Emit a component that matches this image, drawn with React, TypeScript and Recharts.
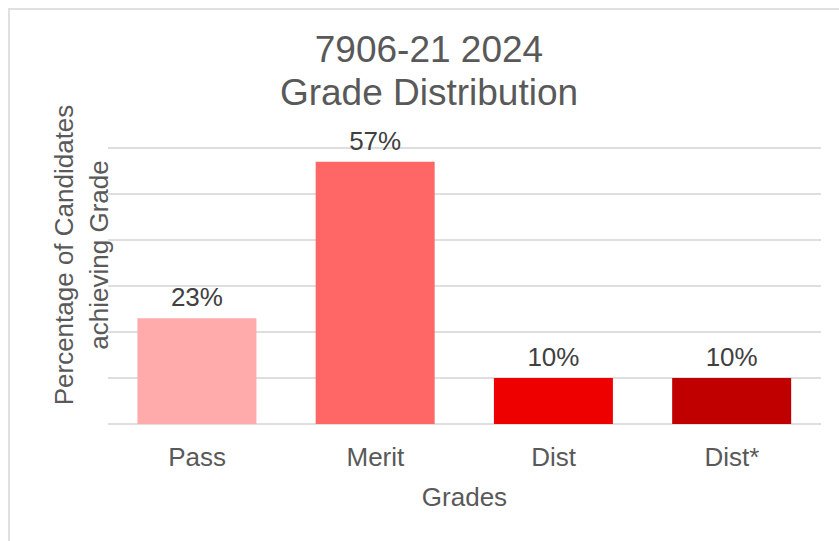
import { BarChart, Bar, XAxis, YAxis, CartesianGrid, LabelList, Cell } from 'recharts'

const grades = ['Pass', 'Merit', 'Dist', 'Dist*']
const percentages = [23, 57, 10, 10]
const barColors = ['#FFABAB', '#FF6666', '#EE0000', '#C00000']
const yTicks = [0, 10, 20, 30, 40, 50, 60]

const data = grades.map((grade, i) => ({ grade, value: percentages[i] }))

const FONT = '"Liberation Sans", Arial, sans-serif'

function YLabel({ viewBox }: { viewBox?: { x: number; y: number; width: number; height: number } }) {
  if (!viewBox) return null
  const cy = viewBox.y + viewBox.height / 2 - 31
  const x1 = 73
  const x2 = 108
  return (
    <g fontFamily={FONT} fontSize={26} fill="#595959" textAnchor="middle">
      <text x={x1} y={cy} transform={`rotate(-90, ${x1}, ${cy})`}>Percentage of Candidates</text>
      <text x={x2} y={cy} transform={`rotate(-90, ${x2}, ${cy})`}>achieving Grade</text>
    </g>
  )
}

export default function App() {
  return (
    <div style={{ position: 'absolute', left: 0, top: 0, width: 839, height: 541, background: '#fff', fontFamily: FONT }}>
      <div
        style={{
          position: 'absolute',
          left: 8,
          top: 8,
          right: 0,
          bottom: 0,
          borderLeft: '2px solid #e0e0e0',
          borderTop: '2px solid #e0e0e0',
        }}
      />
      <div
        style={{
          position: 'absolute',
          left: 0,
          top: 28,
          width: 858,
          textAlign: 'center',
          color: '#595959',
          fontSize: 37,
          lineHeight: '43px',
        }}
      >
        7906-21 2024
        <br />
        Grade Distribution
      </div>
      <div style={{ position: 'absolute', left: 0, top: 0 }}>
        <BarChart
          width={839}
          height={541}
          data={data}
          margin={{ top: 148, right: 18, bottom: 33, left: 0 }}
          barCategoryGap="16.5%"
        >
          <CartesianGrid horizontal vertical={false} stroke="#dedede" strokeWidth={2} />
          <YAxis
            domain={[0, 60]}
            ticks={yTicks}
            width={108}
            tick={() => <g />}
            axisLine={false}
            tickLine={false}
            label={<YLabel />}
          />
          <XAxis
            dataKey="grade"
            axisLine={false}
            tickLine={false}
            height={84}
            tickMargin={18}
            tick={{ fontSize: 26, fill: '#595959', fontFamily: FONT }}
            label={{ value: 'Grades', position: 'insideBottom', offset: 2, fontSize: 26, fill: '#595959', fontFamily: FONT }}
          />
          <Bar dataKey="value" isAnimationActive={false}>
            {data.map((d, i) => (
              <Cell key={d.grade} fill={barColors[i]} />
            ))}
            <LabelList
              dataKey="value"
              position="top"
              offset={12}
              formatter={(v: number) => `${v}%`}
              style={{ fontSize: 26, fill: '#404040', fontFamily: FONT }}
            />
          </Bar>
        </BarChart>
      </div>
    </div>
  )
}
